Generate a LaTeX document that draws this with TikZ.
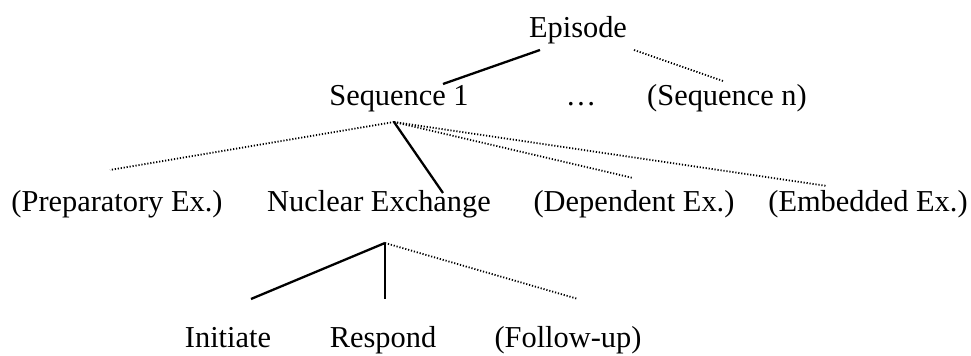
\documentclass[tikz,border=0pt]{standalone}
\usepackage{fontspec}
\setmainfont{Liberation Serif}
\usepackage{tikz}
\tikzset{
	lbl/.style={anchor=base, inner sep=0pt, font=\fontsize{15.2}{17}\selectfont},
	solidedge/.style={line width=1.15pt},
	dotedge/.style={line width=0.9pt, dash pattern=on 0.6pt off 0.9pt}
}

\begin{document}
\begin{tikzpicture}[x=0.5pt,y=-0.5pt]
	\useasboundingbox (0,0) rectangle (971,356);
	\node[lbl] (episode) at (578,38) {Episode};
	\node[lbl] (seq1) at (399,106) {Sequence 1};
	\node[lbl] (dots) at (581,106) {\dots};
	\node[lbl] (seqn) at (727,106) {(Sequence n)};
	\node[lbl] (prep) at (117,212) {(Preparatory Ex.)};
	\node[lbl] (nuclear) at (379,212) {Nuclear Exchange};
	\node[lbl] (dep) at (634,212) {(Dependent Ex.)};
	\node[lbl] (emb) at (868,212) {(Embedded Ex.)};
	\node[lbl] (init) at (228,348) {Initiate};
	\node[lbl] (resp) at (383,348) {Respond};
	\node[lbl] (follow) at (568,348) {(Follow-up)};
	\coordinate (ep-l) at (540,50);
	\coordinate (ep-r) at (634,50);
	\coordinate (seq1-top) at (443,84);
	\coordinate (seqn-top) at (723,81);
	\coordinate (seq1-root) at (394,122);
	\coordinate (prep-top) at (110,170);
	\coordinate (nuclear-top) at (443,193);
	\coordinate (dep-top) at (633,178);
	\coordinate (emb-top) at (827,186);
	\coordinate (ne-root) at (385,243);
	\coordinate (init-top) at (251,299);
	\coordinate (resp-top) at (385,299);
	\coordinate (follow-top) at (578,299);
	\draw[solidedge] (ep-l) -- (seq1-top);
	\draw[dotedge] (ep-r) -- (seqn-top);
	\draw[dotedge] (seq1-root) -- (prep-top);
	\draw[solidedge] (seq1-root) -- (nuclear-top);
	\draw[dotedge] (seq1-root) -- (dep-top);
	\draw[dotedge] (seq1-root) -- (emb-top);
	\draw[solidedge] (ne-root) -- (init-top);
	\draw[solidedge] (ne-root) -- (resp-top);
	\draw[dotedge] (ne-root) -- (follow-top);
\end{tikzpicture}
\end{document}
